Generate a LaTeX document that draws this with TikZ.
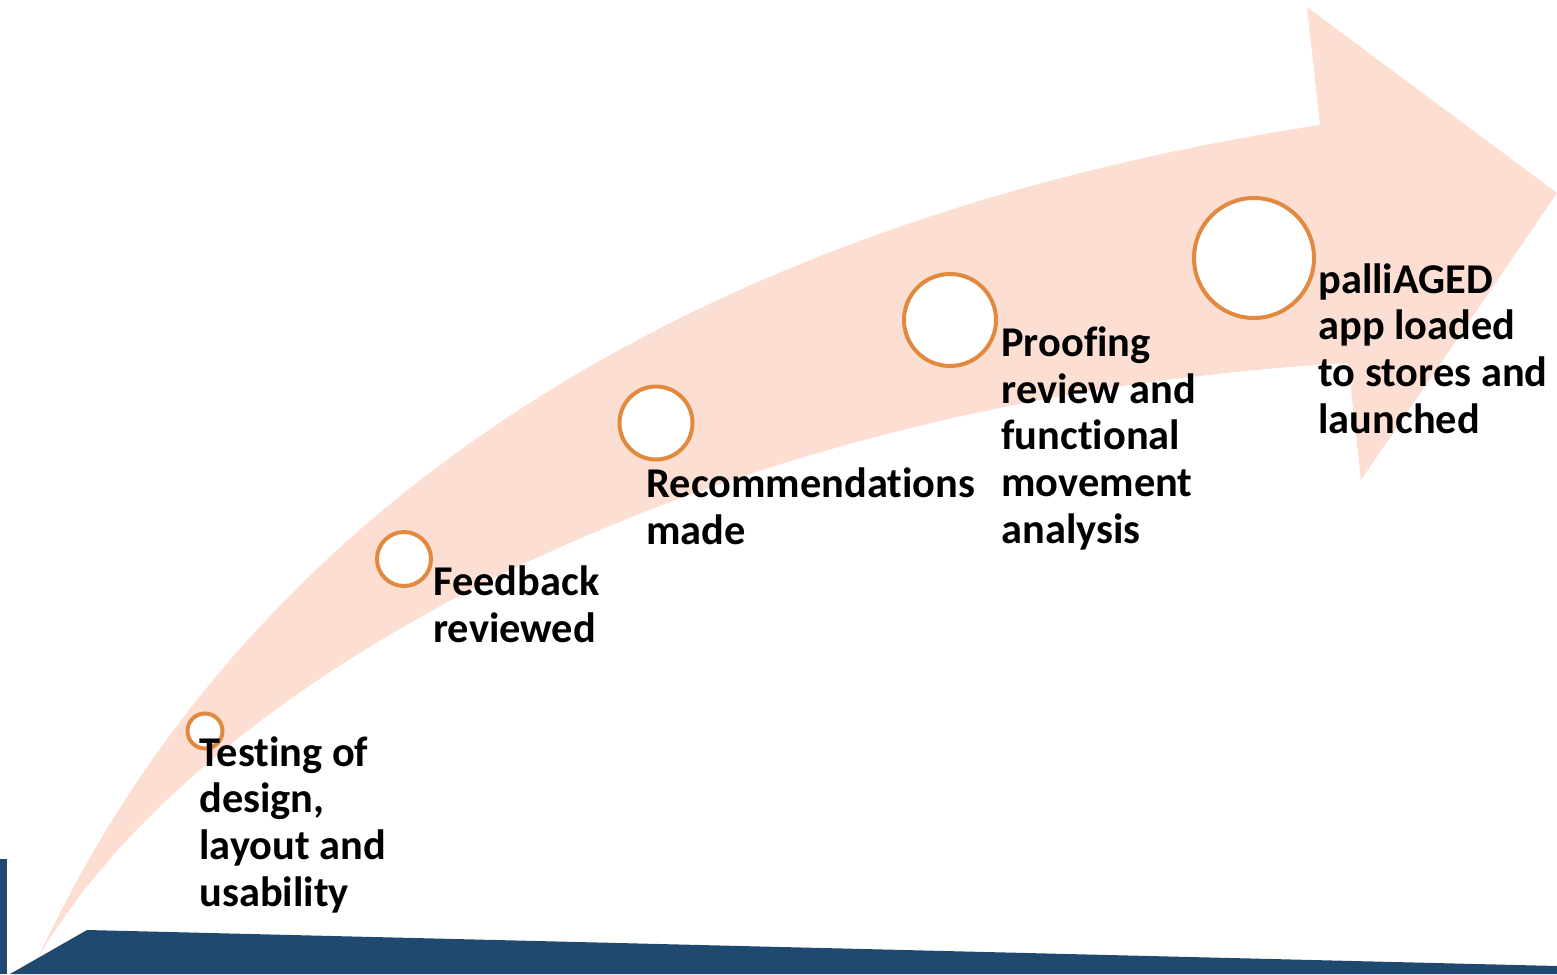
\documentclass[tikz,border=0pt]{standalone}
\usepackage{fontspec}
\setmainfont{Carlito}[Ligatures=NoCommon]
\definecolor{peach}{RGB}{252,222,210}
\definecolor{ringorange}{RGB}{226,137,64}
\definecolor{navy}{RGB}{31,73,110}
\tikzset{
  stepring/.style={draw=ringorange,line width=2pt,fill=white,circle,inner sep=0pt},
  steptext/.style={anchor=base west,inner sep=0pt,align=left,
    font=\fontsize{21.2}{23.3}\selectfont\bfseries}
}
\begin{document}
\begin{tikzpicture}[x=0.5pt,y=-0.5pt]
  \useasboundingbox (0,0) rectangle (1557,974);

  % the curved arrow and the base band
  \fill[peach] (38,958) .. controls (250,500) and (700,220) .. (1320,125)
    -- (1307,7) -- (1557,193) -- (1361,480) -- (1348,363)
    .. controls (700,400) and (200,680) .. (38,958) -- cycle;
  \fill[navy] (10,974) -- (87,930) -- (1557,966) -- (1557,974) -- cycle;
  \fill[navy] (0,859) rectangle (7,974);

  % steps
  \node [stepring,minimum size=17.5pt] (1) at (205,731) {};
  \node [stepring,minimum size=27pt] (2) at (404,559) {};
  \node [stepring,minimum size=36.5pt] (3) at (656,423) {};
  \node [stepring,minimum size=46pt] (4) at (950,320) {};
  \node [stepring,minimum size=60pt] (5) at (1254,258) {};

  % labels (anchored at the last line)
  \node [steptext] (t1) at (199,906) {Testing of\\design,\\layout and\\usability};
  \node [steptext] (t2) at (433,642) {Feedback\\reviewed};
  \node [steptext] (t3) at (646,544) {Recommendations\\made};
  \node [steptext] (t4) at (1001,543) {Proofing\\review and\\functional\\movement\\analysis};
  \node [steptext] (t5) at (1318,433) {palliAGED\\app loaded\\to stores and\\launched};
\end{tikzpicture}
\end{document}
